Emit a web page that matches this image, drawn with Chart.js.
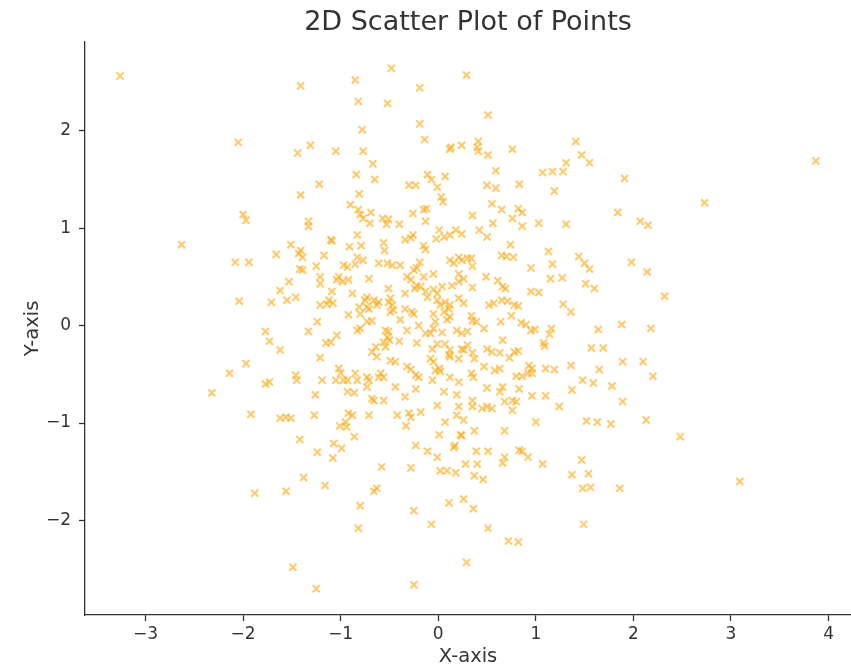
<!DOCTYPE html>
<html>
<head>
<meta charset="utf-8">
<script src="https://cdn.jsdelivr.net/npm/chart.js@4.4.0/dist/chart.umd.min.js"></script>
<style>
  html, body { margin: 0; padding: 0; background: #fff; }
</style>
</head>
<body>
<canvas id="myChart" width="851" height="670"></canvas>
<script>
// values
var chartTitle = '2D Scatter Plot of Points';
var xLabel = 'X-axis';
var yLabel = 'Y-axis';
var xTicks = [-3, -2, -1, 0, 1, 2, 3, 4];
var yTicks = [-2, -1, 0, 1, 2];
var xRange = [-3.62, 4.23];
var yRange = [-2.97, 2.91];

var xValues = [
  // outer / top left
  -3.26, -2.05, -2.00, -1.97,
  // top middle
  -1.41, -0.85, -0.48, 0.29, -0.19, -0.82, -0.52, -0.19, -0.78, -0.14,
  -1.44, -1.31, -1.05, -0.77, 0.13, 0.24, 0.12, -0.67, -0.84, -0.65,
  -1.22, -0.11, -0.07, -0.01, 0.07, -0.30, -0.23, -1.41, -0.81, 0.03,
  0.05, -0.90, -0.82, -0.80, -0.77, -0.69, -0.70, -0.57, -0.51, -0.53,
  -0.40, -0.26, -0.15, -0.12, -0.13, -1.33, -1.33, 0.01, 0.18,
  // top right
  0.51, 0.41, 0.40, 0.41, 0.51, 0.76, 0.59, 1.41, 1.47, 1.55,
  1.31, 1.07, 1.17, 1.28, 1.91, 0.50, 0.59, 0.83, 1.19, 0.55,
  0.65, 0.82, 0.86, 0.76, 0.56, 0.86, 1.03, 1.31, 1.84, 2.07,
  2.15, 0.35, 0.42, 3.87, 2.73,
  // left side
  -2.63, -2.08, -1.94, -1.66, -2.04, -1.71, -1.77, -1.73, -1.97, -2.14,
  -2.32, -1.77, -1.73, -1.92, -1.88, 2.48, 3.09, 2.32,
  // bottom middle
  -1.42, -1.24, -1.07, -0.99, -1.08, -0.86, -1.38, -1.16, -1.56, -0.58,
  -0.66, -0.63, -0.80, -0.82, -1.49, -1.25, -0.25, -0.25, -0.07, -0.28,
  -0.23, -0.11, -0.01, 0.01, 0.02, 0.09, 0.18, 0.16, 0.17, 0.23,
  0.24, 0.11, 0.26, 0.28, 0.29, -1.01, -0.94, -0.33,
  // bottom right
  0.37, 0.68, 0.39, 0.51, 0.40, 0.68, 0.66, 0.83, 0.86, 0.92,
  1.07, 0.37, 0.46, 1.47, 1.37, 1.54, 1.48, 1.56, 1.86, 0.36,
  0.51, 0.72, 0.82, 1.49,
  // centre right
  0.50, 0.74, 0.65, 0.70, 0.77, 1.13, 1.17, 0.95, 1.44, 1.50,
  1.55, 1.98, 2.14, 1.15, 1.27, 1.51, 1.60, 0.35, 0.34, 0.49,
  0.61, 0.66, 0.69, 0.35, 0.95, 1.03, 1.28, 1.36, 0.52, 0.57,
  0.65, 0.71, 0.78, 0.82, 0.75, 0.34, 0.35, 0.39, 0.47, 0.64,
  0.85, 0.90, 0.95, 0.99, 1.16, 1.14, 1.08, 1.09, 0.66, 1.64,
  1.88, 2.18, 1.57, 1.69, 0.50, 0.55, 0.63, 0.78, 0.82, 0.35,
  0.37, 0.73, 1.36, 1.89, 2.10, 0.47, 0.58, 0.63, 0.93, 0.96,
  0.92, 0.96, 1.10, 1.19, 1.65, 0.34, 0.36, 0.80, 0.86, 1.48,
  1.59, 1.78, 2.20, 0.50, 0.66, 0.83, 1.37, 0.96, 1.10, 0.63,
  0.76, 0.80, 0.68, 1.24, 1.89, 0.35, 0.35, 0.45, 0.50, 0.55,
  0.76, 1.00, 1.52, 1.63, 1.77, 2.13,
  // centre
  -1.51, -1.10, -1.09, -0.91, -0.79, -0.55, -0.34, -0.28, -0.26, -0.15,
  -0.13, -0.02, 0.06, -1.41, -1.43, -1.39, -1.17, -1.25, -1.42, -1.39,
  -0.97, -0.93, -0.83, -0.77, -0.85, -0.61, -0.52, -0.47, -0.39, -0.19,
  -0.22, 0.12, 0.16, 0.21, 0.24, 0.30, -0.15, 0.21, -1.53, -1.21,
  -1.21, -1.02, -1.04, -0.98, -0.92, -0.71, -0.32, -0.28, -0.22, -0.18,
  -0.24, -0.05, -0.01, 0.04, 0.21, -1.62, -1.09, -1.12, -0.88, -0.73,
  -0.75, -0.51, -0.49, -0.51, -0.47, -0.46, -0.49, -0.34, -0.61, -0.01,
  0.02, 0.07, 0.12, 0.11, 0.06, 0.21, -1.55, -1.46, -1.21, -1.14,
  -1.08, -0.92, -0.81, -0.73, -0.71, -0.80, -0.34, -0.27, -0.25, -0.03,
  0.09, -1.24, -1.33, -0.83, -0.80, -0.73, -0.68, -0.54, -0.51, -0.52,
  -0.32, -0.13, -0.08, 0.04, 0.19, 0.30, -1.15, -1.10, -1.04, -0.64,
  -0.68, -0.63, -0.56, -0.40, -0.22, -0.06, 0.24, 0.26, -1.62, -1.21,
  -0.49, -0.44, -0.32, -0.28, -0.08, -0.05, 0.01, 0.02, 0.12, 0.21,
  -1.02, -1.00, -1.05, -0.97, -0.93, -0.85, -0.83, -0.73, -0.71, -0.59,
  -0.56, -0.23, -0.20, 0.21, -0.06, -1.46, -1.45, -1.19, -1.26, -0.93,
  -0.86, -0.73, -0.44, -0.34, -0.23, -0.68, -0.66, -0.56, -0.01, -1.62,
  -1.56, -1.51, -1.27, -0.92, -0.88, -0.42, -0.30, -0.28, -0.18, 0.26,
  // centre, second look
  -0.66, -0.63, -0.11, -0.05, 0.12, -0.50, -0.39, -0.20, -0.05, 0.07,
  0.24, -0.54, -0.01, 0.12, 0.30, 0.11, -0.61, -0.03, 0.12, 0.06,
  0.19, 0.21, -0.95, -0.71, 0.07, 0.19, -0.05, -0.25, 0.14, 0.26,
  -0.13, 0.26, -0.83, -0.56, 0.12, 0.24
];

var yValues = [
  // outer / top left
  2.56, 1.88, 1.14, 1.08,
  // top middle
  2.46, 2.52, 2.64, 2.57, 2.44, 2.30, 2.28, 2.07, 2.01, 1.91,
  1.77, 1.85, 1.79, 1.79, 1.83, 1.85, 1.81, 1.66, 1.55, 1.50,
  1.45, 1.55, 1.50, 1.42, 1.53, 1.44, 1.44, 1.34, 1.35, 1.32,
  1.27, 1.24, 1.19, 1.14, 1.10, 1.16, 1.05, 1.10, 1.09, 1.04,
  1.04, 1.15, 1.19, 1.20, 1.07, 1.07, 1.02, 0.98, 0.98,
  // top right
  2.16, 1.89, 1.83, 1.79, 1.75, 1.81, 1.59, 1.89, 1.75, 1.67,
  1.67, 1.57, 1.58, 1.58, 1.51, 1.44, 1.41, 1.45, 1.38, 1.25,
  1.19, 1.20, 1.16, 1.10, 1.05, 1.02, 1.05, 1.04, 1.16, 1.07,
  1.03, 1.13, 0.98, 1.69, 1.26,
  // left side
  0.83, 0.65, 0.65, 0.73, 0.25, 0.24, -0.06, -0.16, -0.39, -0.49,
  -0.69, -0.60, -0.58, -0.91, -1.72, -1.14, -1.60, 0.30,
  // bottom middle
  -1.17, -1.30, -1.21, -1.26, -1.36, -1.14, -1.56, -1.64, -1.70, -1.45,
  -1.70, -1.67, -1.85, -2.08, -2.48, -2.70, -2.66, -1.90, -2.04, -1.46,
  -1.23, -1.29, -1.35, -1.12, -1.49, -1.49, -1.51, -1.25, -1.23, -1.12,
  -1.13, -1.82, -1.78, -1.42, -2.43, -1.03, -1.04, -1.03,
  // bottom right
  -1.08, -1.08, -1.29, -1.29, -1.42, -1.35, -1.41, -1.28, -1.29, -1.35,
  -1.42, -1.54, -1.58, -1.38, -1.53, -1.52, -1.67, -1.66, -1.67, -1.88,
  -2.08, -2.21, -2.22, -2.04,
  // centre right
  0.91, 0.83, 0.72, 0.71, 0.70, 0.76, 0.63, 0.59, 0.71, 0.64,
  0.58, 0.65, 0.55, 0.48, 0.49, 0.43, 0.38, 0.61, 0.69, 0.50,
  0.46, 0.40, 0.38, 0.39, 0.35, 0.34, 0.22, 0.14, 0.21, 0.23,
  0.26, 0.25, 0.21, 0.20, 0.10, 0.10, 0.05, 0.04, -0.03, 0.04,
  0.03, 0.01, -0.05, -0.04, -0.03, -0.09, -0.18, -0.21, -0.15, -0.04,
  0.01, -0.03, -0.23, -0.23, -0.24, -0.27, -0.28, -0.27, -0.26, -0.28,
  -0.34, -0.33, -0.41, -0.37, -0.37, -0.42, -0.46, -0.44, -0.41, -0.44,
  -0.49, -0.49, -0.44, -0.45, -0.45, -0.49, -0.53, -0.52, -0.52, -0.56,
  -0.59, -0.62, -0.52, -0.64, -0.63, -0.65, -0.66, -0.72, -0.72, -0.68,
  -0.77, -0.78, -0.78, -0.83, -0.78, -0.77, -0.83, -0.85, -0.83, -0.85,
  -0.87, -0.99, -0.98, -0.99, -1.01, -0.97,
  // centre
  0.83, 0.88, 0.87, 0.81, 0.82, 0.77, 0.88, 0.90, 0.93, 0.82,
  0.78, 0.89, 0.91, 0.77, 0.74, 0.70, 0.72, 0.61, 0.58, 0.57,
  0.62, 0.60, 0.70, 0.67, 0.63, 0.64, 0.64, 0.62, 0.62, 0.65,
  0.59, 0.67, 0.64, 0.70, 0.67, 0.69, 0.50, 0.53, 0.45, 0.50,
  0.43, 0.50, 0.47, 0.45, 0.47, 0.48, 0.50, 0.47, 0.41, 0.40,
  0.38, 0.37, 0.33, 0.40, 0.45, 0.36, 0.35, 0.26, 0.33, 0.29,
  0.26, 0.38, 0.28, 0.24, 0.21, 0.16, 0.14, 0.33, 0.24, 0.26,
  0.21, 0.24, 0.21, 0.17, 0.14, 0.28, 0.26, 0.29, 0.21, 0.22,
  0.23, 0.11, 0.19, 0.19, 0.17, 0.12, 0.17, 0.14, 0.12, 0.04,
  0.06, 0.04, -0.06, -0.05, -0.03, 0.04, 0.05, -0.05, -0.06, -0.12,
  -0.05, -0.08, -0.08, -0.07, -0.05, -0.06, -0.18, -0.17, -0.10, -0.22,
  -0.27, -0.32, -0.17, -0.16, -0.18, -0.24, -0.24, -0.25, -0.25, -0.33,
  -0.36, -0.37, -0.42, -0.45, -0.34, -0.37, -0.44, -0.47, -0.32, -0.34,
  -0.44, -0.49, -0.56, -0.56, -0.56, -0.49, -0.56, -0.53, -0.56, -0.49,
  -0.53, -0.51, -0.53, -0.58, -0.56, -0.51, -0.56, -0.56, -0.71, -0.68,
  -0.69, -0.63, -0.63, -0.73, -0.65, -0.75, -0.77, -0.77, -0.82, -0.95,
  -0.94, -0.95, -0.92, -0.90, -0.92, -0.92, -0.90, -0.94, -0.89, -0.97,
  // centre, second look
  0.26, 0.21, 0.29, 0.12, 0.09, -0.15, 0.06, 0.00, -0.03, -0.19,
  -0.08, -0.22, -0.19, -0.25, -0.20, -0.30, -0.53, -0.46, -0.53, -0.68,
  -0.71, -0.83, -0.99, -0.92, -0.99, -0.92, 0.53, 0.57, 0.41, 0.48,
  0.35, 0.23, 0.93, 0.85, 0.93, 0.94
];

var points = xValues.map(function (x, i) { return { x: x, y: yValues[i] }; });

var fontFamily = '"DejaVu Sans", sans-serif';
var textColor = '#333333';
var markColor = 'rgba(255, 165, 0, 0.6)';

function tickText(v) {
  return v < 0 ? '\u2212' + Math.abs(v) : String(v);
}

// title over the plot area, like matplotlib does it
var plotTitle = {
  id: 'plotTitle',
  afterDraw: function (chart) {
    var ctx = chart.ctx, area = chart.chartArea;
    ctx.save();
    ctx.font = '27px ' + fontFamily;
    ctx.fillStyle = textColor;
    ctx.textAlign = 'center';
    ctx.textBaseline = 'middle';
    ctx.fillText(chartTitle, (area.left + area.right) / 2, 23);
    ctx.restore();
  }
};

var ctx = document.getElementById('myChart').getContext('2d');
var chart = new Chart(ctx, {
  type: 'scatter',
  data: {
    datasets: [{
      data: points,
      pointStyle: 'crossRot',
      radius: 5,
      hoverRadius: 5,
      borderWidth: 2,
      borderColor: markColor,
      backgroundColor: markColor
    }]
  },
  options: {
    responsive: false,
    animation: false,
    devicePixelRatio: 1,
    layout: { autoPadding: false, padding: { top: 42, left: 0, right: 0, bottom: 0 } },
    plugins: {
      legend: { display: false },
      tooltip: { enabled: false }
    },
    scales: {
      x: {
        type: 'linear',
        min: xRange[0],
        max: xRange[1],
        afterBuildTicks: function (s) { s.ticks = xTicks.map(function (v) { return { value: v }; }); },
        afterFit: function (s) { s.height = 55; s.paddingLeft = 0; s.paddingRight = 0; },
        grid: { display: true, drawOnChartArea: false, drawTicks: true, tickLength: 6, tickWidth: 1.3, tickColor: textColor },
        border: { display: true, color: textColor, width: 1.3 },
        ticks: { font: { family: fontFamily, size: 17 }, color: textColor, padding: 3, maxRotation: 0, autoSkip: false, callback: tickText },
        title: { display: true, text: xLabel, font: { family: fontFamily, size: 19.5 }, color: textColor, padding: { top: 0, bottom: 1 } }
      },
      y: {
        type: 'linear',
        min: yRange[0],
        max: yRange[1],
        afterBuildTicks: function (s) { s.ticks = yTicks.map(function (v) { return { value: v }; }); },
        afterFit: function (s) { s.width = 85; s.paddingTop = 0; s.paddingBottom = 0; },
        grid: { display: true, drawOnChartArea: false, drawTicks: true, tickLength: 6, tickWidth: 1.3, tickColor: textColor },
        border: { display: true, color: textColor, width: 1.3 },
        ticks: { font: { family: fontFamily, size: 17 }, color: textColor, padding: 8, autoSkip: false, callback: tickText },
        title: { display: true, text: yLabel, font: { family: fontFamily, size: 19.5 }, color: textColor, padding: { top: 21, bottom: 0 } }
      }
    }
  },
  plugins: [plotTitle]
});
</script>
</body>
</html>
